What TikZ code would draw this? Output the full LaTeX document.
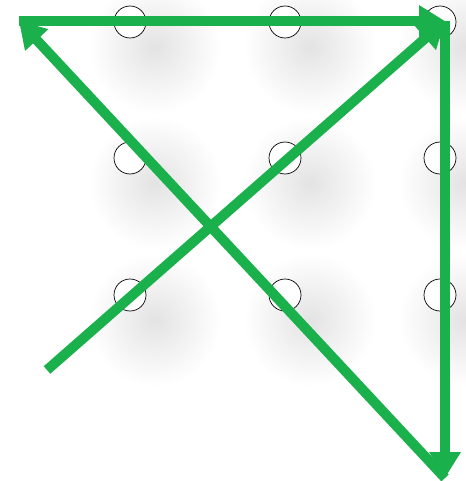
\documentclass[tikz,border=0pt]{standalone}
\usetikzlibrary{arrows.meta,fadings}
\definecolor{moveGreen}{HTML}{1AB04C}
\tikzfading[name=soft out, inner color=transparent!0, outer color=transparent!100]
\begin{document}
\begin{tikzpicture}[x=1pt, y=-1pt, >={Triangle[length=26pt,width=30pt]},
  dot/.style={circle, draw, fill=white, minimum size=32pt, inner sep=0pt, line width=0.7pt},
  blob/.style={fill=black!11, path fading=soft out},
  move/.style={->, line width=10pt, draw=moveGreen}]
\useasboundingbox (0,0) rectangle (465,481);
% soft shadows under the dots
\foreach \c/\x in {1/130, 2/285, 3/440} {
  \foreach \r/\y in {1/22, 2/158, 3/295} {
    \fill[blob] (\x+25,\y+25) circle (66pt);
  }
}
% the nine dots
\foreach \c/\x in {1/130, 2/285, 3/440} {
  \foreach \r/\y in {1/22, 2/158, 3/295} {\node[dot] (d\r\c) at (\x,\y) {};}
}
% corners of the four strokes
\coordinate (start) at (47,370);
\coordinate (ne) at (445,21);
\coordinate (se) at (445,478);
\coordinate (nw) at (19,21);
\draw[move] (start) -- (ne);
\draw[move] (ne) -- (se);
\draw[move] (se) -- (nw);
\draw[move] (nw) -- (ne);
\end{tikzpicture}
\end{document}
